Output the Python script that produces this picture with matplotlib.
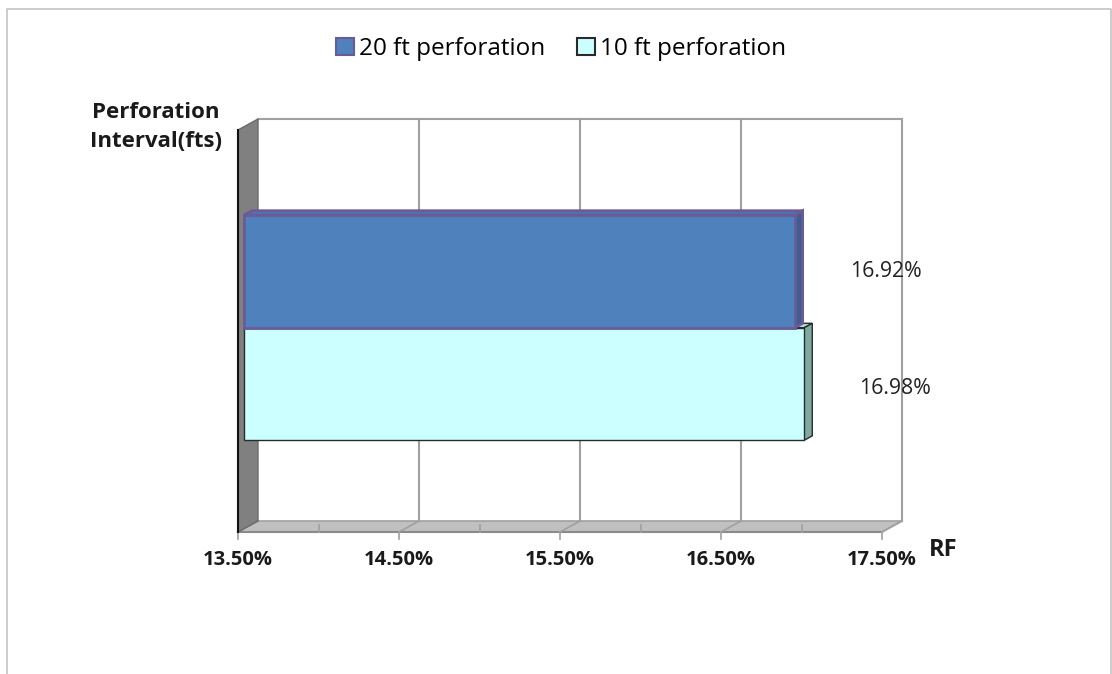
import matplotlib
matplotlib.use("Agg")
import matplotlib.pyplot as plt
from matplotlib.patches import Polygon, Patch
from matplotlib.lines import Line2D

plt.rcParams['font.family'] = ['Open Sans', 'DejaVu Sans']

# ---- data ----
series = ["20 ft perforation", "10 ft perforation"]
rf_values = [16.92, 16.98]
value_labels = ["16.92%", "16.98%"]
x_ticks = [13.5, 14.5, 15.5, 16.5, 17.5]
x_tick_labels = ["13.50%", "14.50%", "15.50%", "16.50%", "17.50%"]
minor_ticks = [14.0, 15.0, 16.0, 17.0]
x_title = "RF"
y_title = "Perforation\nInterval(fts)"

# ---- styles ----
front_colors = ["#4f81bd", "#ccffff"]
top_colors = ["#4a78b0", "#a8dede"]
side_colors = ["#3d5f8f", "#7faaa2"]
edge_colors = ["#6a5a98", "#2a2a2a"]
edge_widths = [2.0, 1.0]
bar_centers = [0.14, -0.14]
bar_height = 0.28

W, H = 1112, 674
fig = plt.figure(figsize=(W / 100, H / 100), dpi=100)

# front plane of the 3-D box, in pixels
X0, X1 = 238, 882
YB, YT = 532, 130
ax = fig.add_axes([X0 / W, 1 - YB / H, (X1 - X0) / W, (YB - YT) / H])
XMIN, XMAX = 13.5, 17.5
YMIN, YMAX = -0.5, 0.5
ax.set_xlim(XMIN, XMAX)
ax.set_ylim(YMIN, YMAX)
ax.axis('off')

px = (XMAX - XMIN) / (X1 - X0)   # data units per pixel, x
py = (YMAX - YMIN) / (YB - YT)   # data units per pixel, y
DEPTH_X, DEPTH_Y = 20, 11        # depth vector of the box in pixels


def depth(t):
    return t * DEPTH_X * px, t * DEPTH_Y * py


DX, DY = depth(1.0)
grid_c = "#a0a0a0"

# floor
ax.add_patch(Polygon([(XMIN, YMIN), (XMAX, YMIN), (XMAX + DX, YMIN + DY), (XMIN + DX, YMIN + DY)],
                     closed=True, facecolor="#c0c0c0", edgecolor=grid_c, lw=1.2, clip_on=False, zorder=1))
ax.plot([XMIN, XMAX], [YMIN, YMIN], color="#8a8a8a", lw=1.5, clip_on=False, zorder=2)

# left wall
ax.add_patch(Polygon([(XMIN, YMIN), (XMIN, YMAX), (XMIN + DX, YMAX + DY), (XMIN + DX, YMIN + DY)],
                     closed=True, facecolor="#808080", edgecolor="#6a6a6a", lw=1.0, clip_on=False, zorder=2))
ax.plot([XMIN, XMIN], [YMIN, YMAX], color="#111111", lw=1.5, clip_on=False, zorder=3)

# back wall gridlines and top edge
for xt in x_ticks[1:]:
    ax.plot([xt + DX, xt + DX], [YMIN + DY, YMAX + DY], color=grid_c, lw=1.5, clip_on=False, zorder=1)
    ax.plot([xt, xt + DX], [YMIN, YMIN + DY], color=grid_c, lw=1.2, clip_on=False, zorder=2)
ax.plot([XMIN + DX, XMAX + DX], [YMAX + DY, YMAX + DY], color=grid_c, lw=1.5, clip_on=False, zorder=1)

# ticks on the floor front edge
for xt in x_ticks:
    ax.plot([xt, xt], [YMIN, YMIN - 7 * py], color=grid_c, lw=1.2, clip_on=False, zorder=2)
for xm in minor_ticks:
    ax.plot([xm, xm], [YMIN, YMIN + 7 * py], color=grid_c, lw=1.2, clip_on=False, zorder=2)

# bars (drawn bottom first so the upper bar sits in front)
d0x, d0y = depth(0.3)
d1x, d1y = depth(0.7)
order = [1, 0]
for i in order:
    v = rf_values[i]
    bot = bar_centers[i] - bar_height / 2
    top = bar_centers[i] + bar_height / 2
    kw = dict(closed=True, edgecolor=edge_colors[i], lw=edge_widths[i], clip_on=False, zorder=4,
              joinstyle="miter")
    ax.add_patch(Polygon([(XMIN + d0x, top + d0y), (v + d0x, top + d0y), (v + d1x, top + d1y),
                          (XMIN + d1x, top + d1y)], facecolor=top_colors[i], **kw))
    ax.add_patch(Polygon([(v + d0x, bot + d0y), (v + d1x, bot + d1y), (v + d1x, top + d1y),
                          (v + d0x, top + d0y)], facecolor=side_colors[i], **kw))
    ax.add_patch(Polygon([(XMIN + d0x, bot + d0y), (v + d0x, bot + d0y), (v + d0x, top + d0y),
                          (XMIN + d0x, top + d0y)], facecolor=front_colors[i], **kw))
    ax.text(v + 97 * px, bar_centers[i] + d0y - (5 * py if i == 1 else 0), value_labels[i],
            ha="center", va="center", fontsize=15.3, color="#222222", zorder=5, clip_on=False)

# tick labels and axis titles
for xt, lab in zip(x_ticks, x_tick_labels):
    ax.text(xt, YMIN - 28 * py, lab, ha="center", va="center", fontsize=14.5,
            fontweight="bold", color="#1a1a1a", clip_on=False)
ax.text(XMAX + 61 * px, YMIN - 18 * py, x_title, ha="center", va="center", fontsize=17,
        fontweight="bold", color="#1a1a1a", clip_on=False)
fig.text(156 / W, 1 - 127 / H, y_title, ha="center", va="center", fontsize=16,
         fontweight="bold", color="#1a1a1a", linespacing=1.55)

# legend
handles = [Patch(facecolor=front_colors[k], edgecolor=edge_colors[k], lw=1.5) for k in range(2)]
fig.legend(handles, series, loc="center", bbox_to_anchor=(561 / W, 1 - 49 / H), ncol=2,
           frameon=False, fontsize=17.5, handlelength=0.75, handleheight=0.75,
           handletextpad=0.2, columnspacing=1.3)

# outer border of the chart area
fig.add_artist(Line2D([6.5 / W, 6.5 / W, 1110.5 / W, 1110.5 / W],
                      [0, 1 - 9 / H, 1 - 9 / H, 0], color="#c4c4c4", lw=1.2))

fig.savefig("out.png", dpi=100, facecolor="white")
